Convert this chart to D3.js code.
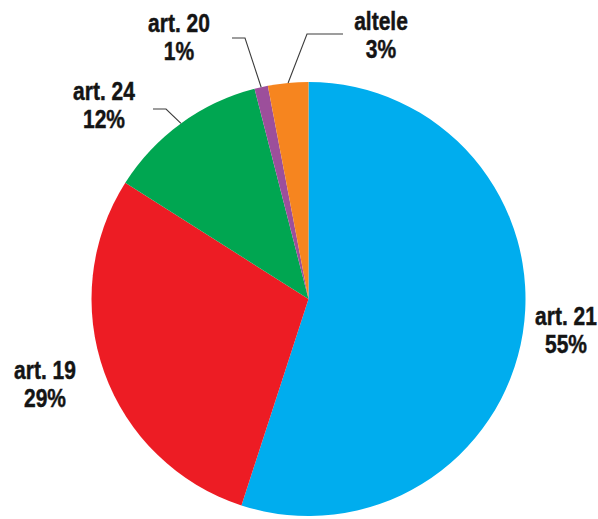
<!DOCTYPE html>
<html>
<head>
<meta charset="utf-8">
<script src="https://cdn.jsdelivr.net/npm/d3@7"></script>
<style>
  html, body { margin: 0; padding: 0; background: #ffffff; }
  svg { display: block; }
  .lbl { font-family: "Liberation Sans", Arial, sans-serif; font-weight: bold; font-size: 25px; fill: #141414; stroke: #141414; stroke-width: 0.45px; }
</style>
</head>
<body>
<svg id="chart" width="598" height="519"></svg>
<script>
// Slice data, in drawing order (clockwise from 12 o'clock)
const categories = ["art. 21", "art. 19", "art. 24", "art. 20", "altele"];
const shares = [55, 29, 12, 1, 3];
const colors = ["#00adee", "#ed1c24", "#00a651", "#9c4f9b", "#f6851f"];

// Label anchors: [x, first baseline], plus optional leader path start points
const labelLayout = {
  "art. 21": { x: 566, y: 325 },
  "art. 19": { x: 45, y: 379 },
  "art. 24": { x: 104, y: 100, leader: [[153, 109], [166, 109]] },
  "art. 20": { x: 179, y: 32, leader: [[232, 38], [245, 38]] },
  "altele":  { x: 381, y: 30, leader: [[343, 34], [307, 34]] }
};

const cx = 308.5, cy = 299, radius = 217;
const narrow = 0.84; // horizontal squeeze for a condensed label face
const svg = d3.select("#chart");

const data = categories.map((c, i) => ({ name: c, value: shares[i], color: colors[i] }));
const pie = d3.pie().sort(null).value(d => d.value);
const arc = d3.arc().innerRadius(0).outerRadius(radius);

const g = svg.append("g").attr("transform", `translate(${cx},${cy})`);
const arcs = pie(data);

g.selectAll("path.slice")
  .data(arcs)
  .join("path")
  .attr("class", "slice")
  .attr("d", arc)
  .attr("fill", d => d.data.color);

// Leader lines end on the outer edge at each slice's mid angle
const leaders = svg.append("g");
arcs.forEach(a => {
  const lay = labelLayout[a.data.name];
  if (!lay.leader) return;
  const mid = (a.startAngle + a.endAngle) / 2;
  const end = [cx + radius * Math.sin(mid), cy - radius * Math.cos(mid)];
  leaders.append("path")
    .attr("d", d3.line()([...lay.leader, end]))
    .attr("fill", "none")
    .attr("stroke", "#3c3c3c")
    .attr("stroke-width", 1.1);
});

// Two-line labels: name and rounded percentage
const labels = svg.append("g");
arcs.forEach(a => {
  const lay = labelLayout[a.data.name];
  const t = labels.append("g")
    .attr("transform", `translate(${lay.x},${lay.y}) scale(${narrow},1)`)
    .append("text")
    .attr("class", "lbl")
    .attr("text-anchor", "middle");
  t.append("tspan").attr("x", 0).attr("y", 0).text(a.data.name);
  t.append("tspan").attr("x", 0).attr("dy", 28.5).text(a.data.value + "%");
});
</script>
</body>
</html>
